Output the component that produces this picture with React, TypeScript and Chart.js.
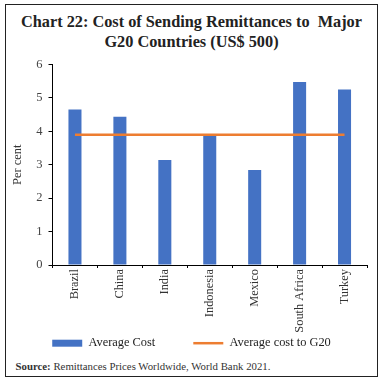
import React, { useEffect, useRef } from "react";
import { Chart, registerables } from "chart.js";

Chart.register(...registerables);

const categories = ["Brazil", "China", "India", "Indonesia", "Mexico", "South Africa", "Turkey"];
const averageCost = [4.65, 4.44, 3.14, 3.89, 2.84, 5.48, 5.25];
const averageG20 = [3.9, 3.9, 3.9, 3.9, 3.9, 3.9, 3.9];
const yTicks = [0, 1, 2, 3, 4, 5, 6];

const SERIF = "'Liberation Serif', 'DejaVu Serif', serif";
const LEGEND_PAD = 38;

// Keeps the legend compact vertically while allowing wide horizontal spacing
const legendFix = {
  id: "legendFix",
  beforeLayout(chart: any) {
    const lg = chart.legend;
    if (lg && !lg._patched) {
      const orig = lg.fit.bind(lg);
      lg.fit = function () {
        orig();
        this.height = 20;
      };
      lg._patched = true;
    }
  },
  afterLayout(chart: any) {
    const lg = chart.legend;
    if (lg) {
      lg.top -= LEGEND_PAD - 2;
      lg.left += 5;
      lg.right += 5;
    }
  },
};

export default function App() {
  const ref = useRef<HTMLCanvasElement>(null);
  useEffect(() => {
    if (!ref.current) return;
    const chart = new Chart(ref.current, {
      type: "bar",
      data: {
        labels: categories,
        datasets: [
          {
            type: "bar",
            label: "Average Cost",
            data: averageCost,
            backgroundColor: "#4472C4",
            borderWidth: 0,
            barPercentage: 0.29,
            categoryPercentage: 1,
            pointStyle: "rect",
            order: 2,
          } as any,
          {
            type: "line",
            label: "Average cost to G20",
            data: averageG20,
            borderColor: "#ED7D31",
            backgroundColor: "#ED7D31",
            borderWidth: 2.5,
            pointRadius: 0,
            pointStyle: "line",
            order: 1,
          } as any,
        ],
      },
      plugins: [legendFix],
      options: {
        animation: false,
        responsive: false,
        layout: { padding: { top: 0, right: 11, left: 0, bottom: 0 } },
        plugins: {
          title: { display: false },
          tooltip: { enabled: false },
          legend: {
            position: "bottom",
            labels: {
              usePointStyle: true,
              pointStyleWidth: 30,
              boxWidth: 30,
              boxHeight: 7,
              padding: LEGEND_PAD,
              color: "#222",
              font: { family: SERIF, size: 12.4 },
              sort: (a: any, b: any) => a.datasetIndex - b.datasetIndex,
            },
          },
        },
        scales: {
          x: {
            afterFit: (s: any) => {
              s.height = 70;
            },
            grid: { display: true, drawOnChartArea: false, drawTicks: true, tickLength: 3, color: "#000", offset: true },
            border: { color: "#000", width: 1 },
            ticks: {
              color: "#333",
              font: { family: SERIF, size: 12.4 },
              maxRotation: 90,
              minRotation: 90,
              padding: 1,
            },
          },
          y: {
            min: 0,
            max: 6,
            afterFit: (s: any) => {
              s.width = 46.5;
            },
            afterBuildTicks: (s: any) => {
              s.ticks = yTicks.map((v) => ({ value: v }));
            },
            grid: { display: true, drawOnChartArea: false, drawTicks: true, tickLength: 4, color: "#000" },
            border: { color: "#000", width: 1 },
            ticks: { color: "#444", font: { family: SERIF, size: 12.5 }, padding: 6 },
            title: { display: true, text: "Per cent", color: "#333", font: { family: SERIF, size: 12.5 }, padding: 4 },
          },
        },
      },
    });
    return () => chart.destroy();
  }, []);

  return (
    <div
      style={{
        position: "absolute",
        left: 5,
        top: 4,
        width: 371,
        height: 371,
        border: "1.5px solid #222",
        background: "#fff",
        fontFamily: SERIF,
      }}
    >
      <div
        style={{
          position: "absolute",
          top: 7,
          left: 0,
          width: "100%",
          textAlign: "center",
          fontWeight: "bold",
          fontSize: 16.3,
          lineHeight: "20px",
          color: "#222",
        }}
      >
        Chart 22: Cost of Sending Remittances to&nbsp; Major
        <br />
        G20 Countries (US$ 500)
      </div>
      <canvas ref={ref} width={372} height={304} style={{ position: "absolute", left: 0, top: 46 }} />
      <div
        style={{
          position: "absolute",
          left: 9.5,
          top: 355,
          fontSize: 10.8,
          color: "#333",
          whiteSpace: "nowrap",
        }}
      >
        <b>Source:</b> Remittances Prices Worldwide, World Bank 2021.
      </div>
    </div>
  );
}
